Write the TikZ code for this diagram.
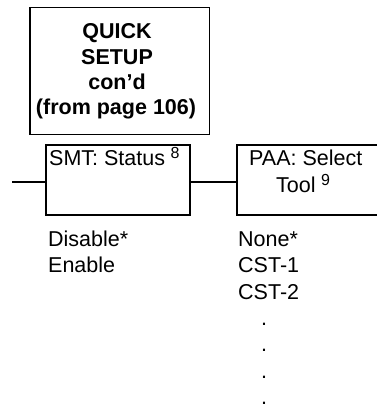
\documentclass[tikz,border=0pt]{standalone}
\usepackage{fontspec}
\setmainfont{Liberation Sans}
\newcommand{\supnum}[1]{\hspace{5.5pt}\raisebox{7pt}{\fontsize{16}{16}\selectfont #1}}
\begin{document}
\begin{tikzpicture}[x=1pt,y=-1pt,
  box/.style={draw, rectangle, inner sep=0pt, line width=1.8pt},
  txt/.style={inner sep=0pt, font=\fontsize{21.5}{26.5}\selectfont},
  ttl/.style={inner sep=0pt, anchor=base, font=\fontsize{21.5}{25.6}\selectfont\bfseries},
  conn/.style={line width=1.8pt}]
\useasboundingbox (0,0) rectangle (376,406);
% boxes
\node[box, minimum width=179.8pt, minimum height=127pt] (title) at (119.6,71) {};
\node[box, minimum width=144pt, minimum height=70pt] (smt) at (117.75,180) {};
\node[box, minimum width=149pt, minimum height=70pt] (paa) at (311.3,180) {};
% title text
\node[ttl] (t1) at (117,38.3) {QUICK};
\node[ttl] (t2) at (117,64.3) {SETUP};
\node[ttl] (t3) at (117,89.6) {con’d};
\node[ttl] (t4) at (116,115) {(from page 106)};
% box texts
\node[txt, anchor=base west] (smtlabel) at (49,165.7) {SMT: Status\supnum{8}};
\node[txt, anchor=base] (paalabel1) at (305.8,165.7) {PAA: Select};
\node[txt, anchor=base] (paalabel2) at (303,192.5) {Tool\supnum{9}};
% options
\node[txt, anchor=base west] (o1) at (48,246) {Disable*};
\node[txt, anchor=base west] (o2) at (48,272.5) {Enable};
\node[txt, anchor=base west] (p1) at (238,246) {None*};
\node[txt, anchor=base west] (p2) at (238,272.5) {CST-1};
\node[txt, anchor=base west] (p3) at (238,299) {CST-2};
\node[txt, anchor=base] (d1) at (264,325.5) {.};
\node[txt, anchor=base] (d2) at (264,351.8) {.};
\node[txt, anchor=base] (d3) at (264,378.3) {.};
\node[txt, anchor=base] (d4) at (264,404.3) {.};
% connectors
\coordinate (stub) at (12,182);
\draw[conn] (stub) -- (stub -| smt.west);
\draw[conn] (smt.east |- stub) -- (paa.west |- stub);
\end{tikzpicture}
\end{document}
